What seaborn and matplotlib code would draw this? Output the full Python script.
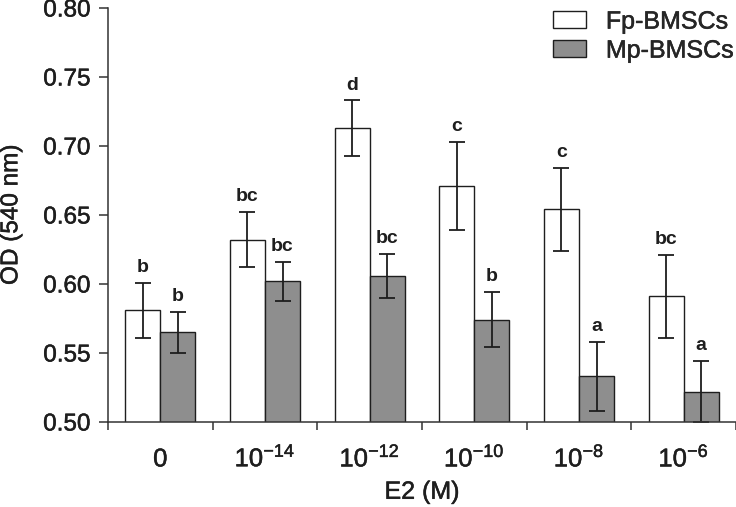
import matplotlib
matplotlib.use('Agg')
import matplotlib.pyplot as plt
import matplotlib.patheffects as pe
import numpy as np
import pandas as pd
import seaborn as sns

# 数据
dose_labels = ['0', r'$10^{-14}$', r'$10^{-12}$', r'$10^{-10}$', r'$10^{-8}$', r'$10^{-6}$']
fp_mean = [0.581, 0.632, 0.713, 0.671, 0.654, 0.591]
fp_err = [0.020, 0.020, 0.020, 0.032, 0.030, 0.030]
mp_mean = [0.565, 0.602, 0.606, 0.574, 0.533, 0.522]
mp_err = [0.015, 0.014, 0.016, 0.020, 0.025, 0.022]
fp_letters = ['b', 'bc', 'd', 'c', 'c', 'bc']
mp_letters = ['b', 'bc', 'bc', 'b', 'a', 'a']
groups = ['Fp-BMSCs', 'Mp-BMSCs']

sns.set_style('ticks')
plt.rcParams['font.family'] = ['Liberation Sans', 'DejaVu Sans']
plt.rcParams['mathtext.fontset'] = 'custom'
plt.rcParams['mathtext.rm'] = 'Liberation Sans'
plt.rcParams['mathtext.it'] = 'Liberation Sans'
plt.rcParams['mathtext.bf'] = 'Liberation Sans:bold'

ink = '#1e1e1e'
thick = [pe.withStroke(linewidth=0.35, foreground=ink)]

df = pd.DataFrame({
    'dose': dose_labels * 2,
    'od': fp_mean + mp_mean,
    'cell': [groups[0]] * 6 + [groups[1]] * 6,
})

fig = plt.figure(figsize=(7.36, 5.07), dpi=100)
ax = fig.add_axes([108 / 736, 1 - 422 / 507, 1 - 108 / 736, (422 - 8) / 507])

sns.barplot(data=df, x='dose', y='od', hue='cell', order=dose_labels, hue_order=groups,
            palette=['white', '#8e8e8e'], edgecolor=ink, linewidth=1.0,
            width=0.67, errorbar=None, ax=ax)

# 误差线和显著性字母
errs = [fp_err, mp_err]
letters = [fp_letters, mp_letters]
bar_conts = list(ax.containers[:2])
for k, cont in enumerate(bar_conts):
    xs = [b.get_x() + b.get_width() / 2 for b in cont]
    ys = [b.get_height() for b in cont]
    ax.errorbar(xs, ys, yerr=errs[k], fmt='none', ecolor=ink,
                elinewidth=1.3, capsize=5.5, capthick=1.3)
    for x, y, e, t in zip(xs, ys, errs[k], letters[k]):
        ax.text(x, y + e + 0.005, t, ha='center', va='bottom',
                fontsize=14, fontweight='bold', color=ink)

ax.set_ylim(0.50, 0.80)
ax.set_xlim(-0.5, 5.5)
ax.set_yticks(np.arange(0.50, 0.801, 0.05))
ax.set_yticklabels(['%.2f' % v for v in np.arange(0.50, 0.801, 0.05)])
ax.set_xticks(np.arange(-0.5, 6, 1), minor=True)
ax.tick_params(axis='y', length=6.5, width=1.1, pad=6, labelsize=17.5,
               color='#333333', labelcolor=ink)
ax.tick_params(axis='x', which='major', length=0, pad=32, labelsize=18.5,
               labelcolor=ink)
ax.tick_params(axis='x', which='minor', length=6, width=1.1, color='#333333')
for t in ax.get_xticklabels():
    t.set_verticalalignment('baseline')
    t.set_path_effects(thick)
for t in ax.get_yticklabels():
    t.set_path_effects(thick)

sns.despine(ax=ax)
for s in ['left', 'bottom']:
    ax.spines[s].set_color('#333333')
    ax.spines[s].set_linewidth(1.1)

ax.set_xlabel('E2 (M)', fontsize=18, color=ink, labelpad=6, path_effects=thick)
ax.set_ylabel('OD (540 nm)', fontsize=17.5, color=ink, labelpad=15, path_effects=thick)

leg = ax.legend(loc='upper right', bbox_to_anchor=(1.0, 0.986), bbox_transform=fig.transFigure,
                frameon=False, fontsize=18, handlelength=1.3, handleheight=0.68,
                handletextpad=0.8, labelspacing=0.2, borderpad=0.1, borderaxespad=0)
for t in leg.get_texts():
    t.set_path_effects(thick)

fig.savefig('out.png', dpi=100)
